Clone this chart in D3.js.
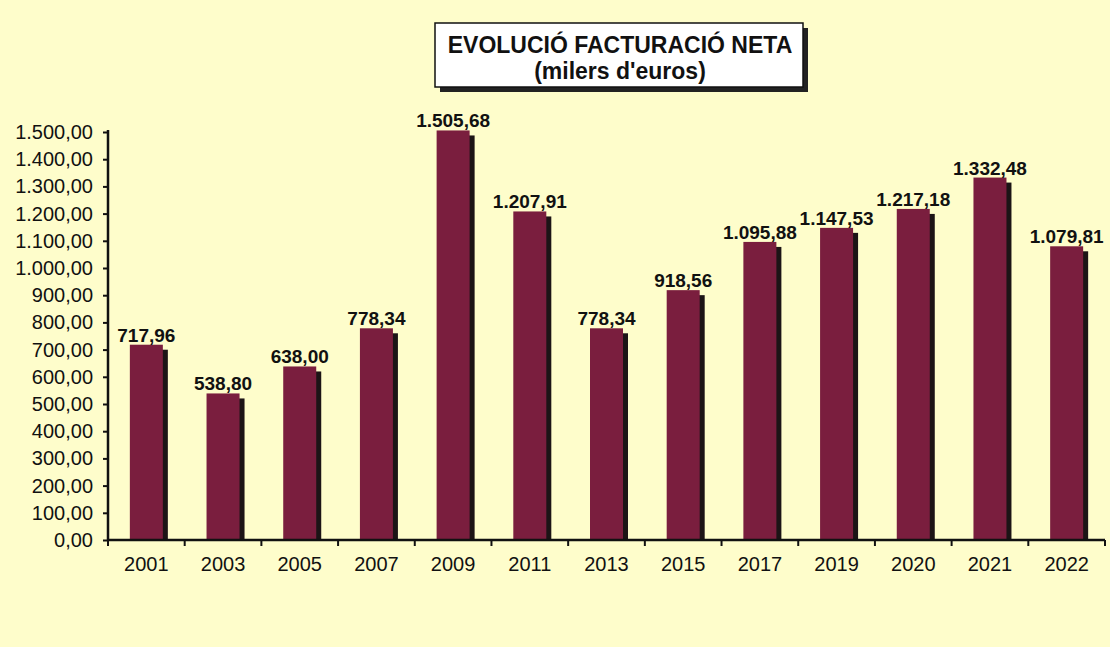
<!DOCTYPE html>
<html><head><meta charset="utf-8">
<script src="https://cdn.jsdelivr.net/npm/d3@7"></script>
<style>html,body{margin:0;padding:0;background:#FEFDCB;}svg{display:block;}</style>
</head><body>
<script>
const years = ["2001","2003","2005","2007","2009","2011","2013","2015","2017","2019","2020","2021","2022"];
const values = [717.96,538.80,638.00,778.34,1505.68,1207.91,778.34,918.56,1095.88,1147.53,1217.18,1332.48,1079.81];
const yTicks = [0,100,200,300,400,500,600,700,800,900,1000,1100,1200,1300,1400,1500];
const titleLines = ["EVOLUCIÓ FACTURACIÓ NETA","(milers d'euros)"];

const W=1110,H=647;
const loc = d3.formatLocale({decimal:",",thousands:".",grouping:[3],currency:["","€"]});
const fmt = loc.format(",.2f");
const svg = d3.select("body").append("svg").attr("width",W).attr("height",H);
svg.append("rect").attr("width",W).attr("height",H).attr("fill","#FEFDCB");

const x = d3.scaleBand().domain(years).range([108,1105]);
const y = d3.scaleLinear().domain([0,1500]).range([540,132]);
const font = "Arial, 'Liberation Sans', sans-serif";

const bw = 33;
const g = svg.append("g");
// shadows
g.selectAll("rect.sh").data(years).join("rect").attr("class","sh")
  .attr("x",d=>x(d)+x.bandwidth()/2-bw/2+5).attr("y",(d,i)=>y(values[i])+5)
  .attr("width",bw).attr("height",(d,i)=>540-y(values[i])-5).attr("fill","#1c1416");
g.selectAll("rect.bar").data(years).join("rect").attr("class","bar")
  .attr("x",d=>x(d)+x.bandwidth()/2-bw/2).attr("y",(d,i)=>y(values[i]))
  .attr("width",bw).attr("height",(d,i)=>540-y(values[i])).attr("fill","#7A1E3E");

// labels
g.selectAll("text.lab").data(years).join("text").attr("class","lab")
  .attr("x",d=>x(d)+x.bandwidth()/2).attr("y",(d,i)=>y(values[i])-3)
  .attr("text-anchor","middle").attr("font-family",font).attr("font-weight","bold")
  .attr("font-size",19).attr("fill","#111").text((d,i)=>fmt(values[i]));

// y axis
const ya = svg.append("g").attr("transform","translate(108,0)")
  .call(d3.axisLeft(y).tickValues(yTicks).tickFormat(fmt).tickSize(5).tickPadding(10));
ya.select(".domain").attr("stroke","#111").attr("stroke-width",2.5).attr("d","M0,130V541");
ya.selectAll(".tick line").attr("stroke","#111").attr("stroke-width",2);
ya.selectAll(".tick text").attr("font-family",font).attr("font-size",20).attr("fill","#111");

// x axis
const xa = svg.append("g").attr("transform","translate(0,540)")
  .call(d3.axisBottom(x).tickSize(0).tickPadding(17));
xa.select(".domain").attr("stroke","#111").attr("stroke-width",2.5).attr("d","M107,0H1105");
xa.selectAll(".tick text").attr("font-family",font).attr("font-size",20).attr("fill","#111");
const bounds = years.map(d=>x(d)).concat([x.range()[1]]);
xa.selectAll("line.bt").data(bounds).join("line").attr("class","bt")
  .attr("x1",d=>d).attr("x2",d=>d).attr("y1",0).attr("y2",6).attr("stroke","#111").attr("stroke-width",2);

// title
const tb = svg.append("g");
tb.append("rect").attr("x",440).attr("y",28).attr("width",368).attr("height",64).attr("fill","#222");
tb.append("rect").attr("x",435).attr("y",23).attr("width",368).attr("height",64).attr("fill","#fff").attr("stroke","#111").attr("stroke-width",1.5);
tb.selectAll("text").data(titleLines).join("text")
  .attr("x",620).attr("y",(d,i)=>53+i*26).attr("text-anchor","middle")
  .attr("font-family",font).attr("font-weight","bold").attr("font-size",23).attr("fill","#111").text(d=>d);
</script>
</body></html>
